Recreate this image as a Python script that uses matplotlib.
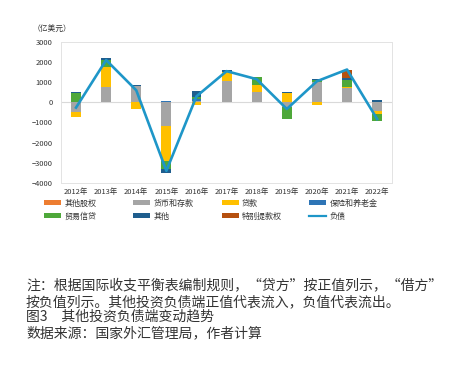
import matplotlib
matplotlib.use('Agg')
import matplotlib.pyplot as plt
import numpy as np
from matplotlib.patches import Patch
from matplotlib.lines import Line2D

plt.rcParams['font.family'] = ['Noto Sans CJK SC', 'DejaVu Sans']

years = ['2012年', '2013年', '2014年', '2015年', '2016年', '2017年',
         '2018年', '2019年', '2020年', '2021年', '2022年']

# 亿美元
other_equity = [0, 0, 0, 0, 0, 0, 0, 0, 0, 0, 0]
currency_deposits = [-500, 750, 830, -1170, 80, 1050, 530, -250, 1000, 700, -420]
loans = [-230, 1000, -330, -1730, -150, 450, 330, 460, -120, 80, -170]
insurance_pension = [0, 0, 0, 60, 80, 0, 0, 0, 0, 0, 0]
trade_credit = [470, 330, 0, -420, 120, 0, 380, -580, 100, 350, -330]
others = [40, 120, 40, -180, 280, 100, 0, 40, 40, 70, 110]
sdr = [0, 0, 0, 0, 0, 0, 0, 0, 0, 420, 0]
liabilities = [-260, 2100, 600, -3400, 300, 1550, 1150, -330, 1050, 1630, -830]

series = [
    ('其他股权', other_equity, '#ED7D31'),
    ('货币和存款', currency_deposits, '#A5A5A5'),
    ('贷款', loans, '#FFC000'),
    ('保险和养老金', insurance_pension, '#2E75B6'),
    ('贸易信贷', trade_credit, '#4EA83A'),
    ('其他', others, '#1F5E8E'),
    ('特别提款权', sdr, '#B5500F'),
]
line_color = '#1E96C8'

fig = plt.figure(figsize=(4.55, 3.68), dpi=100)
ax = fig.add_axes([0.134, 0.503, 0.728, 0.383])

x = np.arange(len(years))
pos_bottom = np.zeros(len(years))
neg_bottom = np.zeros(len(years))
for name, vals, color in series:
    v = np.array(vals, dtype=float)
    bottom = np.where(v >= 0, pos_bottom, neg_bottom)
    ax.bar(x, v, 0.33, bottom=bottom, color=color, zorder=2)
    pos_bottom += np.where(v >= 0, v, 0)
    neg_bottom += np.where(v < 0, v, 0)

ax.plot(x, liabilities, color=line_color, lw=1.9, zorder=3)
ax.axhline(0, color='#D9D9D9', lw=0.8, zorder=1)

ax.set_xlim(-0.5, len(years) - 0.5)
ax.set_ylim(-4000, 3000)
ax.set_yticks(np.arange(-4000, 3001, 1000))
ax.set_xticks(x)
ax.set_xticklabels(years)
ax.tick_params(length=0, labelsize=5.4, colors='#333333')
ax.tick_params(axis='y', pad=6)
ax.tick_params(axis='x', pad=4)
for s in ax.spines.values():
    s.set_color('#E3E3E3')
    s.set_linewidth(0.7)

fig.text(0.072, 0.921, '（亿美元）', fontsize=5.6, color='#333333', va='center')

# legend, Excel layout: 4 columns x 2 rows
cols = [
    [series[0], series[4]],
    [series[1], series[5]],
    [series[2], series[6]],
    [series[3], None],
]
col_x = [0.097, 0.293, 0.487, 0.680]
for cx, col in zip(col_x, cols):
    handles = []
    labels = []
    for item in col:
        if item is None:
            handles.append(Line2D([0], [0], color=line_color, lw=1.6))
            labels.append('负债')
        else:
            handles.append(Patch(facecolor=item[2]))
            labels.append(item[0])
    fig.legend(handles, labels, loc='upper left', bbox_to_anchor=(cx, 0.46),
               frameon=False, fontsize=5.8, handlelength=2.1, handleheight=0.6,
               handletextpad=0.4, labelspacing=0.5, borderpad=0, borderaxespad=0,
               labelcolor='#333333')

notes = [
    '注：根据国际收支平衡表编制规则，“贷方”按正值列示，“借方”',
    '按负值列示。其他投资负债端正值代表流入，负值代表流出。',
    '图3\u3000其他投资负债端变动趋势',
    '数据来源：国家外汇管理局，作者计算',
]
note_y = [285, 302, 317, 333]
for t, yy in zip(notes, note_y):
    fig.text(26 / 455, 1 - yy / 368, t, fontsize=10.0, color='#333333',
             va='center', fontweight='light')

fig.savefig('out.png', dpi=100, facecolor='white')
